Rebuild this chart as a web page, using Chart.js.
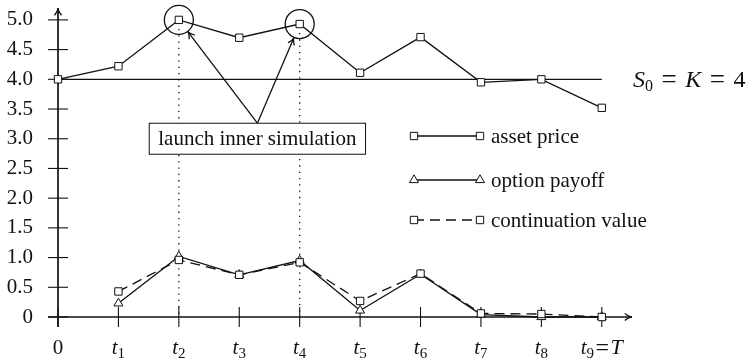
<!DOCTYPE html>
<html><head><meta charset="utf-8">
<script src="https://cdn.jsdelivr.net/npm/chart.js@4/dist/chart.umd.min.js"></script>
<style>html,body{margin:0;padding:0;background:#fff}#wrap{width:750px;height:359px;position:relative}</style>
</head><body><div id="wrap"><canvas id="c" width="750" height="359"></canvas></div>
<script>
// ---- data ----
const times = [0, 1, 2, 3, 4, 5, 6, 7, 8, 9];
const xTickLabels = ['0', 't1', 't2', 't3', 't4', 't5', 't6', 't7', 't8', 't9=T'];
const yTickValues = [0, 0.5, 1.0, 1.5, 2.0, 2.5, 3.0, 3.5, 4.0, 4.5, 5.0];
const assetPrice = [4.0, 4.22, 5.0, 4.70, 4.93, 4.11, 4.71, 3.95, 4.0, 3.52];
const payoffTimes = [1, 2, 3, 4, 5, 6, 7, 8, 9];
const optionPayoff = [0.23, 1.02, 0.71, 0.95, 0.11, 0.72, 0.04, 0.0, 0.0];
const continuationValue = [0.43, 0.96, 0.71, 0.92, 0.27, 0.73, 0.06, 0.05, 0.0];
const strike = 4;
const strikeLineTimes = [0, 9];
const innerSimTimes = [2, 4];
const legendLabels = ['asset price', 'option payoff', 'continuation value'];
const annotationText = 'launch inner simulation';
const annotationAnchor = [3.3, 3.0];

// ---- styling ----
const SERIF = "'Liberation Serif','DejaVu Serif',serif";
const INK = '#111';
const FS = 21;

function pts(xs, ys) { return xs.map((x, i) => ({ x: x, y: ys[i] })); }

function arrowHead(ctx, tx, ty, ang, len, spread) {
  const a1 = ang + Math.PI - spread, a2 = ang + Math.PI + spread;
  ctx.beginPath();
  ctx.moveTo(tx + len * Math.cos(a1), ty + len * Math.sin(a1));
  ctx.quadraticCurveTo(tx - len * 0.35 * Math.cos(ang), ty - len * 0.35 * Math.sin(ang), tx, ty);
  ctx.quadraticCurveTo(tx - len * 0.35 * Math.cos(ang), ty - len * 0.35 * Math.sin(ang), tx + len * Math.cos(a2), ty + len * Math.sin(a2));
  ctx.stroke();
}

function drawPieces(ctx, parts, x, y) {
  ctx.textAlign = 'left'; ctx.textBaseline = 'alphabetic';
  parts.forEach(p => { ctx.font = p.f; ctx.fillText(p.t, x + (p.gl || 0), y + p.dy); x += (p.gl || 0) + p.w + (p.gr || 0); });
}
function measurePieces(ctx, parts) {
  let w = 0;
  parts.forEach(p => { ctx.font = p.f; p.w = ctx.measureText(p.t).width; w += p.w + (p.gl || 0) + (p.gr || 0); });
  return w;
}

function drawMathLabel(ctx, label, cx, cy) {
  const parts = [];
  if (label === '0') { parts.push({ t: '0', f: `${FS}px ${SERIF}`, dy: 0 }); }
  else {
    const m = label.match(/^t(\d)(=T)?$/);
    parts.push({ t: 't', f: `italic ${FS}px ${SERIF}`, dy: 0 });
    parts.push({ t: m[1], f: `${Math.round(FS * 0.72)}px ${SERIF}`, dy: 4 });
    if (m[2]) {
      parts.push({ t: '=', f: `${FS + 3}px ${SERIF}`, dy: 1, gl: 1.5, gr: 1.5 });
      parts.push({ t: 'T', f: `italic ${FS + 1}px ${SERIF}`, dy: 0 });
    }
  }
  const w = measurePieces(ctx, parts);
  drawPieces(ctx, parts, cx - w / 2, cy);
}

const overlay = {
  id: 'overlay',
  beforeDatasetsDraw(chart) {
    const { ctx, scales: { x, y } } = chart;
    const x0 = x.getPixelForValue(0), y0 = y.getPixelForValue(0);
    ctx.save();
    ctx.strokeStyle = INK;
    ctx.lineWidth = 1.3; ctx.setLineDash([1.3, 5]);
    innerSimTimes.forEach(t => {
      const px = x.getPixelForValue(t), py = y.getPixelForValue(assetPrice[t]);
      ctx.beginPath(); ctx.moveTo(px, py + 9); ctx.lineTo(px, y0); ctx.stroke();
    });
    ctx.setLineDash([]);
    ctx.lineWidth = 1.7;
    ctx.beginPath(); ctx.moveTo(x0 - 10, y0); ctx.lineTo(x.right, y0); ctx.stroke();
    ctx.beginPath(); ctx.moveTo(x0, y0 + 10); ctx.lineTo(x0, y.top); ctx.stroke();
    ctx.lineWidth = 1.4;
    arrowHead(ctx, x.right, y0, 0, 8, 0.45);
    arrowHead(ctx, x0, y.top, -Math.PI / 2, 8, 0.45);
    ctx.lineWidth = 1.1;
    yTickValues.forEach(v => { const py = y.getPixelForValue(v); ctx.beginPath(); ctx.moveTo(x0 - 10, py); ctx.lineTo(x0 + 10, py); ctx.stroke(); });
    times.forEach(t => { const px = x.getPixelForValue(t); ctx.beginPath(); ctx.moveTo(px, y0 - 10); ctx.lineTo(px, y0 + 10); ctx.stroke(); });
    ctx.fillStyle = INK;
    times.forEach((t, i) => drawMathLabel(ctx, xTickLabels[i], x.getPixelForValue(t), y0 + 37));
    ctx.restore();
  },
  afterDatasetsDraw(chart) {
    const { ctx, scales: { x, y } } = chart;
    ctx.save();
    ctx.strokeStyle = INK; ctx.fillStyle = INK;
    const R = 14.5;
    const centers = innerSimTimes.map(t => [x.getPixelForValue(t), y.getPixelForValue(assetPrice[t])]);
    ctx.lineWidth = 1.3;
    centers.forEach(c => { ctx.beginPath(); ctx.arc(c[0], c[1], R, 0, Math.PI * 2); ctx.stroke(); });
    ctx.font = `${FS}px ${SERIF}`;
    const tw = ctx.measureText(annotationText).width;
    const bw = tw + 18, bh = 31;
    const bx = x.getPixelForValue(annotationAnchor[0]), by = y.getPixelForValue(annotationAnchor[1]);
    ctx.fillStyle = '#fff';
    ctx.fillRect(bx - bw / 2, by - bh / 2, bw, bh);
    ctx.lineWidth = 1;
    ctx.strokeRect(bx - bw / 2, by - bh / 2, bw, bh);
    ctx.fillStyle = INK; ctx.textAlign = 'center'; ctx.textBaseline = 'middle';
    ctx.fillText(annotationText, bx, by + 1);
    const sx = bx, sy = by - bh / 2;
    ctx.lineWidth = 1.3;
    centers.forEach(c => {
      const dx = c[0] - sx, dy = c[1] - sy, L = Math.hypot(dx, dy);
      const tx = c[0] - R * dx / L, ty = c[1] - R * dy / L;
      ctx.beginPath(); ctx.moveTo(sx, sy); ctx.lineTo(tx, ty); ctx.stroke();
      arrowHead(ctx, tx, ty, Math.atan2(dy, dx), 8, 0.45);
    });
    // strike label  S_0 = K = 4
    const sp = y.getPixelForValue(strike);
    const MF = FS + 3;
    const pieces = [
      { t: 'S', f: `italic ${MF}px ${SERIF}`, dy: 0 },
      { t: '0', f: `${Math.round(MF * 0.68)}px ${SERIF}`, dy: 4 },
      { t: '=', f: `${MF + 3}px ${SERIF}`, dy: 1, gl: 8.5, gr: 8.5 },
      { t: 'K', f: `italic ${MF}px ${SERIF}`, dy: 0 },
      { t: '=', f: `${MF + 3}px ${SERIF}`, dy: 1, gl: 8.5, gr: 8.5 },
      { t: '4', f: `${MF}px ${SERIF}`, dy: 0 }
    ];
    measurePieces(ctx, pieces);
    drawPieces(ctx, pieces, 633, sp + 8);
    // legend
    const rows = [136, 180, 220];
    chart.data.datasets.slice(0, 3).forEach((ds, i) => {
      const yy = rows[i];
      ctx.strokeStyle = INK; ctx.lineWidth = ds.borderWidth;
      ctx.setLineDash(ds.borderDash || []);
      ctx.beginPath(); ctx.moveTo(414, yy); ctx.lineTo(480, yy); ctx.stroke();
      ctx.setLineDash([]);
      [414, 480].forEach(px => {
        ctx.fillStyle = '#fff'; ctx.strokeStyle = INK; ctx.lineWidth = 1;
        Chart.helpers.drawPoint(ctx, { pointStyle: ds.pointStyle, radius: ds.pointRadius, rotation: 0, borderWidth: 1 }, px, yy);
      });
      ctx.fillStyle = INK; ctx.font = `${FS}px ${SERIF}`;
      ctx.textAlign = 'left'; ctx.textBaseline = 'middle';
      ctx.fillText(legendLabels[i], 491, yy + 1);
    });
    ctx.restore();
  }
};

new Chart(document.getElementById('c'), {
  type: 'line',
  data: {
    datasets: [
      { label: legendLabels[0], data: pts(times, assetPrice), borderColor: INK, borderWidth: 1.3,
        pointStyle: 'rect', pointRadius: 5.2, pointBackgroundColor: '#fff', pointBorderColor: INK, pointBorderWidth: 1, clip: false, order: 1 },
      { label: legendLabels[1], data: pts(payoffTimes, optionPayoff), borderColor: INK, borderWidth: 1.3,
        pointStyle: 'triangle', pointRadius: 5.2, pointBackgroundColor: '#fff', pointBorderColor: INK, pointBorderWidth: 1, clip: false, order: 3 },
      { label: legendLabels[2], data: pts(payoffTimes, continuationValue), borderColor: INK, borderWidth: 1.3, borderDash: [10, 6],
        pointStyle: 'rect', pointRadius: 5.2, pointBackgroundColor: '#fff', pointBorderColor: INK, pointBorderWidth: 1, clip: false, order: 2 },
      { label: 'strike', data: pts(strikeLineTimes, [strike, strike]), borderColor: INK, borderWidth: 1.3,
        pointRadius: 0, clip: false, order: 4 }
    ]
  },
  options: {
    responsive: false,
    animation: false,
    events: [],
    layout: { padding: { top: 8, right: 118, bottom: 42, left: 0 } },
    plugins: { legend: { display: false }, tooltip: { enabled: false } },
    scales: {
      x: { type: 'linear', min: 0, max: 9.5, display: false },
      y: {
        type: 'linear', min: 0, max: 5.2,
        grid: { display: false, drawTicks: false }, border: { display: false },
        ticks: { padding: 25, color: INK, autoSkip: false, font: { family: SERIF, size: FS },
          callback: v => v === 0 ? '0' : v.toFixed(1) },
        afterBuildTicks: s => { s.ticks = yTickValues.map(v => ({ value: v })); },
        afterFit: s => { s.width = 58; s.paddingTop = 0; s.paddingBottom = 0; }
      }
    }
  },
  plugins: [overlay]
});
</script>
</body></html>
